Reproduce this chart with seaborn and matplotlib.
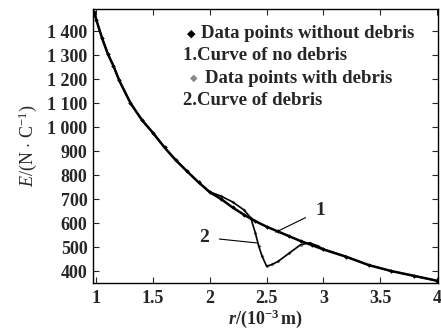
import pandas as pd
import matplotlib
matplotlib.use("Agg")
import matplotlib.pyplot as plt
import seaborn as sns

# Field strength vs radius
r_clean = [0.98, 1.0, 1.05, 1.1, 1.15, 1.2, 1.3, 1.4, 1.5, 1.6, 1.7, 1.8, 1.9, 2.0,
           2.1, 2.2, 2.3, 2.4, 2.5, 2.6, 2.7, 2.8, 2.9, 3.0, 3.2, 3.4, 3.6, 3.8, 4.0]
E_clean = [1480, 1445, 1370, 1305, 1255, 1195, 1100, 1030, 975, 915, 862, 815, 770, 728,
           700, 665, 635, 608, 585, 565, 545, 525, 508, 490, 460, 425, 400, 380, 360]

r_debris = [0.98, 1.0, 1.05, 1.1, 1.15, 1.2, 1.3, 1.4, 1.5, 1.6, 1.7, 1.8, 1.9, 2.0,
            2.1, 2.2, 2.3, 2.36, 2.4, 2.43, 2.46, 2.5, 2.55, 2.6, 2.7, 2.8, 2.88,
            2.95, 3.0, 3.2, 3.4, 3.6, 3.8, 4.0]
E_debris = [1480, 1445, 1370, 1305, 1255, 1195, 1100, 1030, 975, 915, 862, 815, 770, 730,
            712, 688, 655, 622, 560, 505, 462, 420, 428, 440, 475, 510, 518,
            505, 492, 460, 425, 400, 380, 360]

x_ticks = [1, 1.5, 2, 2.5, 3, 3.5, 4]
x_tick_labels = ["1", "1.5", "2", "2.5", "3", "3.5", "4"]
y_ticks = [400, 500, 600, 700, 800, 900, 1000, 1100, 1200, 1300, 1400]
y_tick_labels = ["400", "500", "600", "700", "800", "900", "1 000", "1 100",
                 "1 200", "1 300", "1 400"]

legend_labels = ["Data points without debris", "1.Curve of no debris",
                 "Data points with debris", "2.Curve of debris"]

clean = pd.DataFrame({"r": r_clean, "E": E_clean})
debris = pd.DataFrame({"r": r_debris, "E": E_debris})

sns.set_style("ticks")
plt.rcParams["font.family"] = ["Liberation Serif", "DejaVu Sans"]
plt.rcParams["mathtext.fontset"] = "custom"
plt.rcParams["mathtext.rm"] = "Liberation Serif"
plt.rcParams["mathtext.it"] = "Liberation Serif:italic"
plt.rcParams["mathtext.bf"] = "Liberation Serif:bold"
plt.rcParams["mathtext.bfit"] = "Liberation Serif:bold:italic"

fig = plt.figure(figsize=(4.41, 3.35), dpi=100)
ax = fig.add_axes([0.211, 0.155, 0.782, 0.818])

# curves
sns.lineplot(data=debris, x="r", y="E", ax=ax, color="black", linewidth=1.2,
             estimator=None, sort=False)
sns.lineplot(data=clean, x="r", y="E", ax=ax, color="black", linewidth=1.8,
             estimator=None, sort=False)
# data points
sns.scatterplot(data=debris, x="r", y="E", ax=ax, color="#777777", marker="D",
                s=4, linewidth=0)
sns.scatterplot(data=clean, x="r", y="E", ax=ax, color="black", marker="D",
                s=5, linewidth=0)

ax.set_xlim(0.97, 4.01)
ax.set_ylim(350, 1492)
ax.set_xticks(x_ticks)
ax.set_xticklabels(x_tick_labels, fontsize=13, fontweight="bold")
ax.set_yticks(y_ticks)
ax.set_yticklabels(y_tick_labels, fontsize=13, fontweight="bold")
ax.tick_params(direction="in", length=4.5, width=0.8, top=True, right=True,
               labeltop=False, labelright=False)
ax.tick_params(axis="x", pad=5)
ax.tick_params(axis="y", pad=4)
for s in ax.spines.values():
    s.set_linewidth(1.0)
    s.set_color("black")

ax.set_xlabel(r"$\mathbfit{r}\mathbf{/(10^{-3}\,m)}$", fontsize=13, labelpad=0)
ax.set_ylabel(r"$E$/(N $\cdot$ C$^{-1}$)", fontsize=13, labelpad=6)

# curve annotations
ax.annotate("1", xy=(2.58, 562), xytext=(2.97, 652), fontsize=14, fontweight="bold",
            ha="center", va="center",
            arrowprops=dict(arrowstyle="-", color="black", lw=0.8, shrinkA=5, shrinkB=0))
ax.annotate("2", xy=(2.42, 517), xytext=(1.95, 540), fontsize=14, fontweight="bold",
            ha="center", va="center",
            arrowprops=dict(arrowstyle="-", color="black", lw=0.8, shrinkA=5, shrinkB=0))

# legend drawn as text lines
leg_y = [0.912, 0.83, 0.748, 0.668]
ax.text(0.272, leg_y[0], "\u25c6", transform=ax.transAxes, fontsize=8, color="black",
        family=["DejaVu Sans"], va="center")
ax.text(0.312, leg_y[0], legend_labels[0], transform=ax.transAxes, fontsize=13.5,
        fontweight="bold", va="center")
ax.text(0.262, leg_y[1], legend_labels[1], transform=ax.transAxes, fontsize=13.5,
        fontweight="bold", va="center")
ax.text(0.282, leg_y[2], "\u25c6", transform=ax.transAxes, fontsize=7, color="#888888",
        family=["DejaVu Sans"], va="center")
ax.text(0.325, leg_y[2], legend_labels[2], transform=ax.transAxes, fontsize=13.5,
        fontweight="bold", va="center")
ax.text(0.262, leg_y[3], legend_labels[3], transform=ax.transAxes, fontsize=13.5,
        fontweight="bold", va="center")

fig.savefig("out.png", dpi=100)
